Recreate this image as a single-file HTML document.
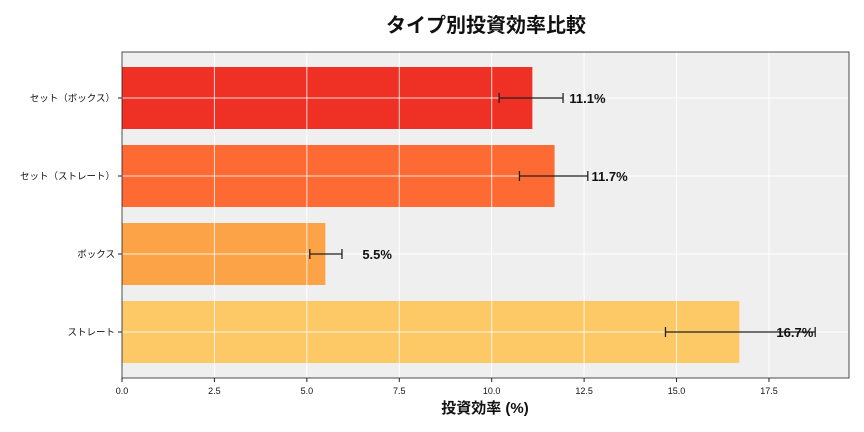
<!DOCTYPE html>
<html><head><meta charset="utf-8"><style>
body{margin:0;background:#fff;}
svg{display:block;font-family:"Liberation Sans","Noto Sans CJK JP",sans-serif;}
</style></head><body>
<svg id="chart" width="864" height="432">
<text x="486" y="32" text-anchor="middle" font-size="20" font-weight="bold" fill="#111">タイプ別投資効率比較</text>
<rect x="122" y="52" width="727" height="326" fill="#efefef"/>
<g id="grid"></g><g id="bars"></g><g id="axes"></g>
<rect x="122" y="52" width="727" height="326" fill="none" stroke="#222" stroke-width="0.8"/>
<text x="485" y="413" text-anchor="middle" font-size="15" font-weight="bold" fill="#111">投資効率 (%)</text>
</svg>
<script>
const categories=["セット（ボックス）","セット（ストレート）","ボックス","ストレート"];
const values=[11.1,11.7,5.5,16.7];
const errLow=[10.2,10.75,5.08,14.7];
const errHigh=[11.93,12.6,5.95,18.75];
const valueLabels=["11.1%","11.7%","5.5%","16.7%"];
const colors=["#ee3124","#fd6a33","#fca348","#fdc967"];
const xTicks=[0,2.5,5,7.5,10,12.5,15,17.5];
const xTickLabels=["0.0","2.5","5.0","7.5","10.0","12.5","15.0","17.5"];
const NS="http://www.w3.org/2000/svg";
const x=v=>122+v*36.97;
const yc=i=>98+i*78;
function mk(p,t,a){const e=document.createElementNS(NS,t);for(const k in a)e.setAttribute(k,a[k]);p.appendChild(e);return e;}
const grid=document.getElementById('grid'),bars=document.getElementById('bars'),axes=document.getElementById('axes');
xTicks.forEach((t,i)=>{
 const g=mk(grid,'line',{x1:x(t),x2:x(t),y1:52,y2:378,stroke:'#fff','stroke-width':1});
 
 
 const tk=mk(axes,'line',{x1:x(t),x2:x(t),y1:378,y2:382,stroke:'#222'});
 
 
 const tl=mk(axes,'text',{x:x(t),y:394,'text-anchor':'middle','font-size':9,fill:'#111'});
 tl.textContent=xTickLabels[i];
 
 
});
categories.forEach((c,i)=>{
 const gl=mk(grid,'line',{x1:122,x2:849,y1:yc(i),y2:yc(i),stroke:'#fff','stroke-width':1});
 
 
 const b=mk(bars,'rect',{x:x(0),y:yc(i)-31,width:x(values[i])-x(0),height:62,fill:colors[i]});
 
 
 const gl2=mk(bars,'line',{x1:122,x2:x(values[i]),y1:yc(i),y2:yc(i),stroke:'#fff','stroke-width':1,opacity:0.8});
 
 
 xTicks.forEach(t=>{if(t>0&&t<values[i]){const v=mk(bars,'line',{x1:x(t),x2:x(t),y1:yc(i)-31,y2:yc(i)+31,stroke:'#fff','stroke-width':1,opacity:0.8});
  
  }});
 const e=mk(bars,'path',{d:`M${x(errLow[i])},${yc(i)}H${x(errHigh[i])}M${x(errLow[i])},${yc(i)-5}v10M${x(errHigh[i])},${yc(i)-5}v10`,stroke:'#222','stroke-width':1.3,fill:'none'});
 
 
 const vl=mk(bars,'text',{x:x(values[i])+37,y:yc(i)+5,'font-size':13,'font-weight':'bold',fill:'#111'});
 vl.textContent=valueLabels[i];
 
 
 const tk=mk(axes,'line',{x1:118,x2:122,y1:yc(i),y2:yc(i),stroke:'#222'});
 
 
 const yl=mk(axes,'text',{x:115,y:yc(i)+3.5,'text-anchor':'end','font-size':9.5,fill:'#111'});
 yl.textContent=c;
 
 
});
</script>
</body></html>
